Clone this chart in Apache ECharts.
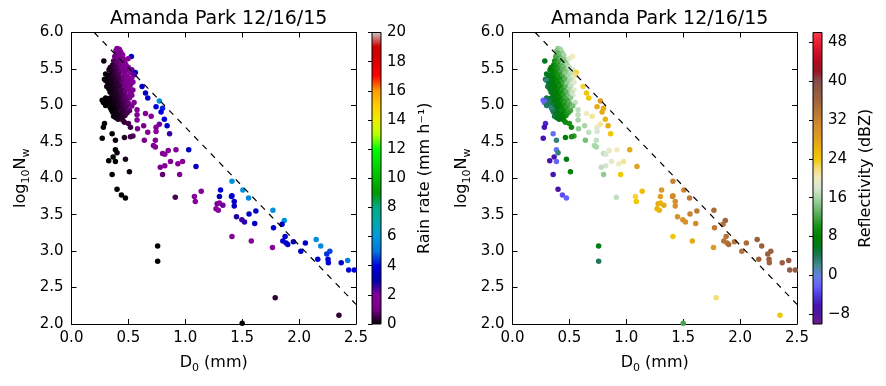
<!DOCTYPE html>
<html><head><meta charset="utf-8">
<script src="https://cdn.jsdelivr.net/npm/echarts@6/dist/echarts.min.js"></script>
<style>html,body{margin:0;padding:0;background:#fff}#c{width:886px;height:386px}</style>
</head><body><div id="c"></div>
<script>
const titleText = 'Amanda Park 12/16/15';
// D0 (mm)
const d0 = [
0.40,0.42,0.39,0.41,0.43,0.40,0.44,0.42,0.45,
0.38,0.41,0.526,0.40,0.43,0.46,0.497,0.284,0.37,0.42,0.45,0.39,0.41,0.44,0.47,
0.36,0.40,0.43,0.48,0.34,0.38,0.42,0.45,0.50,0.33,0.37,0.40,0.44,0.48,0.53,0.35,0.39,0.42,0.46,0.52,0.561,
0.30,0.34,0.38,0.41,0.47,0.55,0.32,0.36,0.40,0.44,0.49,0.53,0.29,0.33,0.37,0.42,0.46,0.51,0.30,0.35,0.39,0.43,0.50,0.54,
0.32,0.36,0.40,0.45,0.48,0.52,0.31,0.35,0.38,0.42,0.47,0.51,0.62,0.33,0.37,0.41,0.44,0.50,0.54,0.34,0.39,0.43,0.47,0.52,0.65,
0.36,0.40,0.45,0.49,0.53,0.30,0.34,0.38,0.42,0.46,0.51,0.67,0.27,0.29,0.33,0.37,0.41,0.44,0.48,0.772,0.28,0.31,0.33,0.36,0.39,0.43,0.46,0.50,0.55,
0.30,0.35,0.38,0.41,0.45,0.49,0.53,0.743,0.34,0.37,0.42,0.47,0.80,0.35,0.39,0.44,0.51,0.576,0.36,0.40,0.45,0.49,0.787,0.38,0.43,0.65,0.37,0.41,0.47,0.576,0.39,0.44,0.70,0.41,0.45,0.816,0.576,
0.465,0.29,0.50,0.772,0.634,0.84,0.28,0.518,0.743,0.58,0.743,0.67,0.357,0.862,0.54,0.518,0.465,0.27,0.386,0.64,0.737,0.72,0.737,0.386,0.918,1.03,0.85,0.40,0.80,0.82,0.366,0.474,0.327,0.386,0.87,0.976,0.935,0.82,1.094,0.78,0.509,0.357,0.80,0.95,
1.41,0.40,1.506,1.31,1.14,0.439,1.41,1.08,1.30,1.406,0.912,0.474,1.556,1.088,1.43,1.28,1.30,1.33,1.43,1.27,1.29,1.77,1.62,1.56,1.45,1.497,1.87,1.52,1.61,1.85,1.775,1.41,1.877,2.15,1.58,1.857,1.95,1.886,2.055,1.90,0.757,2.19,1.766,2.015,2.27,2.243,2.164,2.254,2.427,0.757,2.257,2.37,2.436,2.485,1.79,2.35,1.50
];
// log10 Nw
const logNw = [
5.78,5.77,5.75,5.75,5.74,5.72,5.71,5.69,5.69,
5.67,5.66,5.67,5.64,5.64,5.63,5.64,5.61,5.61,5.61,5.60,5.58,5.58,5.57,5.58,
5.55,5.55,5.54,5.55,5.52,5.52,5.51,5.52,5.52,5.49,5.48,5.49,5.49,5.48,5.49,5.46,5.46,5.45,5.46,5.45,5.45,
5.43,5.42,5.43,5.42,5.43,5.42,5.40,5.39,5.40,5.39,5.40,5.38,5.36,5.36,5.35,5.36,5.36,5.35,5.34,5.33,5.33,5.32,5.33,5.32,
5.30,5.29,5.30,5.29,5.30,5.29,5.26,5.26,5.25,5.26,5.25,5.26,5.26,5.22,5.21,5.22,5.21,5.22,5.21,5.18,5.18,5.17,5.18,5.17,5.17,
5.14,5.13,5.14,5.13,5.14,5.10,5.10,5.09,5.10,5.09,5.10,5.10,5.07,5.06,5.07,5.06,5.07,5.06,5.07,5.06,5.04,5.03,5.04,5.03,5.04,5.03,5.04,5.03,5.04,
5.00,5.00,4.99,5.00,4.99,5.00,4.99,4.98,4.97,4.96,4.97,4.96,4.96,4.94,4.93,4.94,4.93,4.94,4.91,4.90,4.91,4.90,4.91,4.88,4.88,4.89,4.85,4.86,4.86,4.87,4.83,4.84,4.85,4.81,4.80,4.81,4.80,
4.77,4.75,4.75,4.74,4.72,4.72,4.70,4.70,4.70,4.68,4.64,4.63,4.61,4.61,4.58,4.57,4.56,4.55,4.52,4.52,4.52,4.45,4.43,4.39,4.39,4.39,4.38,4.35,4.34,4.33,4.29,4.26,4.24,4.23,4.23,4.23,4.20,4.17,4.16,4.15,4.09,4.05,4.05,4.05,
3.96,3.85,3.84,3.84,3.82,3.77,3.76,3.75,3.75,3.75,3.74,3.73,3.73,3.68,3.68,3.65,3.66,3.63,3.62,3.58,3.56,3.56,3.55,3.51,3.47,3.43,3.42,3.40,3.38,3.37,3.32,3.20,3.20,3.16,3.14,3.14,3.13,3.11,3.11,3.09,3.07,3.07,3.05,3.00,3.00,2.96,2.89,2.89,2.87,2.86,2.84,2.84,2.74,2.74,2.36,2.12,2.01
];
// rain rate (mm/h)
const rainRate = [
1.5,1.6,1.3,1.5,1.7,1.2,1.6,1.4,1.8,
0.9,1.2,3.4,1.0,1.3,1.6,2.0,0.1,0.6,1.1,1.4,0.7,0.9,1.3,1.6,
0.4,0.8,1.1,1.7,0.3,0.5,0.9,1.3,1.9,0.2,0.4,0.7,1.1,1.6,2.2,0.3,0.5,0.8,1.3,2.0,3.0,
0.1,0.2,0.4,0.7,1.4,2.4,0.1,0.3,0.5,0.9,1.6,2.0,0.0,0.2,0.3,0.6,1.1,1.8,0.1,0.2,0.4,0.7,1.5,1.9,
0.1,0.2,0.4,0.8,1.3,1.7,0.1,0.2,0.3,0.5,1.0,1.5,3.4,0.1,0.2,0.4,0.6,1.3,1.6,0.1,0.3,0.5,0.9,1.4,3.6,
0.2,0.3,0.6,1.0,1.5,0.0,0.1,0.2,0.4,0.7,1.2,3.8,0.0,0.0,0.1,0.2,0.3,0.5,0.8,5.8,0.0,0.0,0.0,0.1,0.2,0.4,0.6,0.9,1.4,
0.0,0.1,0.1,0.3,0.5,0.8,1.0,4.0,0.0,0.1,0.3,0.6,4.3,0.0,0.1,0.4,0.8,1.6,0.1,0.2,0.4,0.6,4.0,0.1,0.3,1.9,0.1,0.2,0.5,1.7,0.1,0.3,2.0,0.2,0.3,3.8,1.5,
0.4,0.0,0.6,2.2,1.4,3.6,0.0,0.5,1.9,1.3,1.8,1.6,0.0,2.6,0.7,0.6,0.3,0.0,0.1,1.3,1.6,1.4,1.5,0.0,1.9,3.5,1.8,0.1,1.6,1.7,0.0,0.2,0.0,0.0,1.7,1.9,1.8,1.6,3.4,1.4,0.1,0.0,0.8,1.7,
5.8,0.0,5.8,3.8,2.0,0.0,3.6,1.8,3.0,3.8,0.6,0.0,5.5,1.9,3.5,2.2,2.0,2.2,3.4,2.0,1.9,5.8,3.6,3.5,2.8,2.5,5.8,2.7,3.5,3.6,3.7,1.8,3.6,5.6,2.0,3.6,3.5,3.5,3.6,3.6,0.0,5.6,2.0,3.5,4.6,4.4,3.8,4.0,5.2,0.0,3.8,3.8,3.9,3.8,0.4,0.4,0.0
];
// reflectivity (dBZ)
const reflectivity = [
15,16,14,15,16,13,15,14,16,
12,13,20,12,14,15,19,6,10,13,14,11,12,14,15,
9,11,13,16,8,10,12,14,17,7,9,11,13,16,18,8,10,12,14,17,23,
6,7,9,11,15,22,6,8,10,12,16,19,5,7,8,10,13,17,3,7,9,11,16,19,
6,7,9,12,15,18,5,7,8,10,13,17,23,6,7,9,11,16,19,6,8,10,13,17,24,
7,8,11,14,18,5,6,7,9,12,15,24,-2,-3,5,7,8,10,12,29,-2,3,4,6,7,9,11,13,17,
4,5,6,8,10,12,14,27,3,6,8,11,27,3,6,9,12,17,4,7,9,11,27,6,8,20,5,7,10,17,6,8,21,6,8,26,16,
9,-5,10,21,16,27,-6,9,19,15,18,17,-1,24,11,10,7,-6,3,14,17,16,16,-1,20,27,19,3,17,18,-6,7,-7,-2,19,21,20,18,28,17,8,-6,15,24,
32,-7,32,29,25,-3,30,23,28,31,17,-2,33,24,30,27,26,27,30,26,26,35,33,32,30,30,36,30,31,34,33,24,34,37,27,34,34,34,35,35,7,37,29,34,37,37,36,37,38,4,36,37,38,38,22,24,12
];
const refLineD = [0.2, 2.5];
const refLineN = [6.0, 2.27];
const xRange = [0, 2.5], xStep = 0.5;
const yRange = [2, 6], yStep = 0.5;
const rainRange = [0, 20], rainStep = 2;
const reflRange = [-10, 50];
const reflTicks = [-8, 0, 8, 16, 24, 32, 40, 48];
const rainColors = ['#000000','#770088','#880099','#0000aa','#0000dd','#0077dd','#0099dd','#00aaaa','#00aa88','#009900','#00bb00','#00dd00','#00ff00','#bbff00','#eeee00','#ffcc00','#ff9900','#ff0000','#dd0000','#cc0000','#cccccc'];
const reflColors = ['#6e1e8c','#50149a','#4614b4','#503cdc','#6464fa','#6482dc','#468c96','#1e785a','#00781e','#008000','#149114','#46a546','#78be78','#aad7aa','#d7e6d2','#f0ebbe','#f5dc78','#f0c800','#ebb40a','#e1a01e','#d79128','#c88232','#b47337','#a0643c','#915a41','#874b4b','#961423','#b40a1e','#d20f28','#f01e32','#fa3c50'];

const FONT = 'DejaVu Sans';
const chart = echarts.init(document.getElementById('c'));
const ptsRain = d0.map((d, i) => [d, logNw[i], rainRate[i]]);
const ptsRefl = d0.map((d, i) => [d, logNw[i], reflectivity[i]]);
const lineData = refLineD.map((d, i) => [d, refLineN[i]]);

const G = [
  {left: 71.5, top: 32.5, width: 284.5, height: 291.5},
  {left: 512.5, top: 32.5, width: 284.5, height: 291.5},
  {left: 372, top: 32.5, width: 9, height: 291.5},
  {left: 813, top: 32.5, width: 9, height: 291.5}
];
const lineStyle = {color: '#000', width: 1};
const tickStyle = {show: true, inside: true, length: 5, lineStyle: {color: '#000', width: 1}};
const lab = {color: '#000', fontSize: 15, fontFamily: FONT};
const richSub = {
  t: {fontSize: 16, fontFamily: FONT, color: '#000', lineHeight: 22, verticalAlign: 'middle'},
  s: {fontSize: 11, fontFamily: FONT, color: '#000', lineHeight: 12, verticalAlign: 'bottom'}
};
function xAx(grid, pos, labels) {
  return {type: 'value', gridIndex: grid, position: pos, min: xRange[0], max: xRange[1], interval: xStep,
    axisLine: {show: true, onZero: false, lineStyle}, axisTick: tickStyle, splitLine: {show: false},
    axisLabel: labels ? Object.assign({show: true, margin: 7, formatter: v => v.toFixed(1)}, lab) : {show: false},
    name: labels ? '{t|D}{s|0}{t| (mm)}' : '', nameLocation: 'middle', nameGap: 28,
    nameTextStyle: {rich: richSub}};
}
function yAx(grid, pos, labels) {
  return {type: 'value', gridIndex: grid, position: pos, min: yRange[0], max: yRange[1], interval: yStep,
    axisLine: {show: true, onZero: false, lineStyle}, axisTick: tickStyle, splitLine: {show: false},
    axisLabel: labels ? Object.assign({show: true, margin: 8, formatter: v => v.toFixed(1)}, lab) : {show: false},
    name: labels ? '{t|log}{s|10}{t|N}{s|w}' : '', nameLocation: 'middle', nameRotate: 90, nameGap: 40,
    nameTextStyle: {rich: richSub}};
}
function cbX(grid) {
  return {type: 'value', gridIndex: grid, min: 0, max: 1, show: false};
}
function stops(colors) { return colors.map((c, i) => ({offset: i / (colors.length - 1), color: c})); }
function cbItem(colors) {
  return function (params, api) {
    const p0 = api.coord([0, api.value(0)]);
    const p1 = api.coord([1, api.value(1)]);
    return {type: 'rect', shape: {x: p0[0], y: p1[1], width: p1[0] - p0[0], height: p0[1] - p1[1]},
      style: {fill: new echarts.graphic.LinearGradient(0, 1, 0, 0, stops(colors)), stroke: '#000', lineWidth: 1}};
  };
}
const minus = v => v < 0 ? '\u2212' + Math.abs(v) : String(v);

chart.setOption({
  animation: false,
  backgroundColor: '#fff',
  textStyle: {fontFamily: FONT},
  title: [
    {text: titleText, left: 213.75, top: 5, textAlign: 'center', textStyle: {fontSize: 19, fontWeight: 'normal', color: '#000', fontFamily: FONT}},
    {text: titleText, left: 654.75, top: 5, textAlign: 'center', textStyle: {fontSize: 19, fontWeight: 'normal', color: '#000', fontFamily: FONT}}
  ],
  grid: G,
  xAxis: [xAx(0, 'bottom', true), xAx(0, 'top', false), xAx(1, 'bottom', true), xAx(1, 'top', false), cbX(2), cbX(3)],
  yAxis: [yAx(0, 'left', true), yAx(0, 'right', false), yAx(1, 'left', true), yAx(1, 'right', false),
    {type: 'value', gridIndex: 2, position: 'right', min: rainRange[0], max: rainRange[1], interval: rainStep,
      axisLine: {show: true, lineStyle}, axisTick: {show: true, inside: true, length: 4, lineStyle: {color: '#000'}},
      splitLine: {show: false}, axisLabel: Object.assign({margin: 6}, lab),
      name: 'Rain rate (mm h\u207B\u00B9)', nameLocation: 'middle', nameRotate: 90, nameGap: 36,
      nameTextStyle: {fontSize: 16, color: '#000', fontFamily: FONT}},
    {type: 'value', gridIndex: 3, position: 'right', min: reflRange[0], max: reflRange[1],
      axisLine: {show: true, lineStyle}, axisTick: {show: true, inside: true, length: 4, customValues: reflTicks, lineStyle: {color: '#000'}},
      splitLine: {show: false}, axisLabel: Object.assign({margin: 6, customValues: reflTicks, formatter: minus}, lab),
      name: 'Reflectivity (dBZ)', nameLocation: 'middle', nameRotate: 90, nameGap: 36,
      nameTextStyle: {fontSize: 16, color: '#000', fontFamily: FONT}}
  ],
  visualMap: [
    {type: 'continuous', show: false, seriesIndex: 0, dimension: 2, min: rainRange[0], max: rainRange[1], inRange: {color: rainColors}},
    {type: 'continuous', show: false, seriesIndex: 2, dimension: 2, min: reflRange[0], max: reflRange[1], inRange: {color: reflColors}}
  ],
  series: [
    {type: 'scatter', xAxisIndex: 0, yAxisIndex: 0, data: ptsRain, symbolSize: 5.5, itemStyle: {opacity: 1}, z: 2},
    {type: 'line', xAxisIndex: 0, yAxisIndex: 0, data: lineData, symbol: 'none', lineStyle: {color: '#000', width: 1.2, type: [6, 6]}, z: 3},
    {type: 'scatter', xAxisIndex: 2, yAxisIndex: 2, data: ptsRefl, symbolSize: 5.5, itemStyle: {opacity: 1}, z: 2},
    {type: 'line', xAxisIndex: 2, yAxisIndex: 2, data: lineData, symbol: 'none', lineStyle: {color: '#000', width: 1.2, type: [6, 6]}, z: 3},
    {type: 'custom', xAxisIndex: 4, yAxisIndex: 4, data: [[rainRange[0], rainRange[1]]], renderItem: cbItem(rainColors), clip: false, silent: true},
    {type: 'custom', xAxisIndex: 5, yAxisIndex: 5, data: [[reflRange[0], reflRange[1]]], renderItem: cbItem(reflColors), clip: false, silent: true}
  ]
});
</script>
</body></html>
